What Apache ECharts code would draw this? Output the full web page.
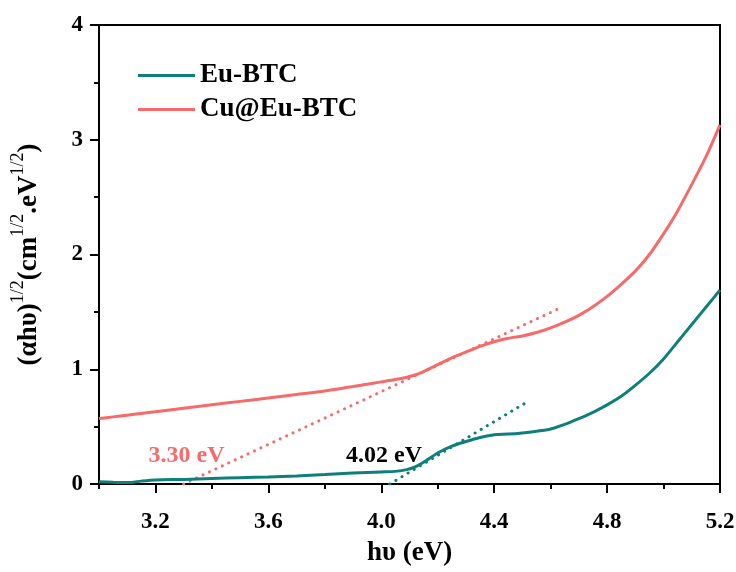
<!DOCTYPE html>
<html>
<head>
<meta charset="utf-8">
<script src="https://cdn.jsdelivr.net/npm/echarts@6/dist/echarts.min.js"></script>
<style>html,body{margin:0;padding:0;background:#fff}#c{width:736px;height:572px}</style>
</head>
<body>
<div id="c"></div>
<script>
// ---- data ----
const energy = [3.0,3.05,3.1,3.15,3.2,3.3,3.4,3.5,3.6,3.7,3.8,3.9,4.0,4.05,4.09,4.12,4.15,4.2,4.25,4.3,4.35,4.4,4.45,4.5,4.55,4.6,4.65,4.7,4.75,4.8,4.85,4.9,4.95,5.0,5.05,5.1,5.15,5.2];
const euBTC = [0.02,0.015,0.012,0.025,0.035,0.04,0.048,0.055,0.062,0.07,0.082,0.095,0.105,0.11,0.125,0.15,0.19,0.27,0.33,0.37,0.405,0.43,0.435,0.445,0.46,0.48,0.52,0.57,0.625,0.69,0.765,0.86,0.965,1.09,1.24,1.39,1.54,1.69];
const cuEuBTC = [0.57,0.585,0.6,0.615,0.63,0.66,0.69,0.72,0.75,0.78,0.81,0.85,0.89,0.91,0.93,0.95,0.98,1.04,1.1,1.15,1.2,1.24,1.27,1.29,1.32,1.36,1.41,1.47,1.545,1.635,1.74,1.855,2.0,2.18,2.38,2.61,2.85,3.13];
const euTangent = [[4.03,0],[4.52,0.72]];
const cuTangent = [[3.30,0],[4.63,1.53]];
const annotations = [
  {text:'3.30 eV', x:3.31, y:0.25, color:'#f86a6a'},
  {text:'4.02 eV', x:4.01, y:0.25, color:'#000000'}
];
const xLabels = [3.2,3.6,4.0,4.4,4.8,5.2];
const xMinor = [3.0,3.4,3.8,4.2,4.6,5.0];
const seriesNames = ['Eu-BTC','Cu@Eu-BTC'];
const colors = ['#0f7f7b','#f86a6a'];

const FONT = '"Liberation Serif","Times New Roman",serif';
const pair = (xs, ys) => xs.map((x,i)=>[x, ys[i]]);

const chart = echarts.init(document.getElementById('c'), null, {renderer:'canvas'});
const option = {
  backgroundColor:'#fff',
  animation:false,
  grid:{left:99, right:16, top:25, bottom:88, show:true, borderColor:'#000', borderWidth:2,
    containLabel:false, outerBoundsMode:'none'},
  legend:{
    data:seriesNames, orient:'vertical', left:133, top:57, icon:'rect', itemWidth:57, itemHeight:3, itemGap:7,
    textStyle:{fontFamily:FONT, fontWeight:'bold', fontSize:27, color:'#000', padding:[0,0,0,0]}
  },
  xAxis:[{
    type:'value', min:3.0, max:5.2,
    name:'h\u03c5 (eV)', nameLocation:'middle', nameGap:56,
    nameTextStyle:{fontFamily:FONT, fontWeight:'bold', fontSize:27, color:'#000'},
    axisLine:{show:true, lineStyle:{color:'#000', width:2}},
    axisTick:{show:true, length:9, lineStyle:{color:'#000', width:2}, customValues:xLabels},
    axisLabel:{fontFamily:FONT, fontWeight:'bold', fontSize:23, color:'#000', margin:27, customValues:xLabels,
      formatter:v=>v.toFixed(1)},
    splitLine:{show:false}
  },{
    type:'value', min:3.0, max:5.2, position:'bottom',
    axisLine:{show:false},
    axisTick:{show:true, length:5, lineStyle:{color:'#000', width:2}, customValues:xMinor},
    axisLabel:{show:false},
    splitLine:{show:false}
  }],
  yAxis:{
    type:'value', min:0, max:4, interval:1,
    name:'{p|(\u03b1h\u03c5)}{s|1/2}{p|(cm}{s|1/2}{p|.eV}{s|1/2}{p|)}',
    nameLocation:'middle', nameGap:56, nameRotate:90,
    nameTextStyle:{
      rich:{
        p:{fontFamily:FONT, fontWeight:'bold', fontSize:27, color:'#000', verticalAlign:'bottom', lineHeight:34},
        s:{fontFamily:FONT, fontSize:18, color:'#000', verticalAlign:'top', lineHeight:34}
      }
    },
    axisLine:{show:true, lineStyle:{color:'#000', width:2}},
    axisTick:{show:true, length:9, lineStyle:{color:'#000', width:2}},
    minorTick:{show:true, splitNumber:2, length:5, lineStyle:{color:'#000', width:2}},
    axisLabel:{fontFamily:FONT, fontWeight:'bold', fontSize:23, color:'#000', margin:16},
    splitLine:{show:false}
  },
  series:[
    {name:seriesNames[0], type:'line', data:pair(energy, euBTC), symbol:'none', smooth:0.25,
      lineStyle:{color:colors[0], width:3}, itemStyle:{color:colors[0]}, z:3},
    {name:seriesNames[1], type:'line', data:pair(energy, cuEuBTC), symbol:'none', smooth:0.25,
      lineStyle:{color:colors[1], width:3}, itemStyle:{color:colors[1]}, z:3},
    {name:'euTan', type:'line', data:euTangent, symbol:'none',
      lineStyle:{color:colors[0], width:3, type:[0.1,7], cap:'round'}, z:2},
    {name:'cuTan', type:'line', data:cuTangent, symbol:'none',
      lineStyle:{color:colors[1], width:3, type:[0.1,7], cap:'round'}, z:2},
    {name:'ann', type:'scatter', symbolSize:0, itemStyle:{opacity:1},
      data:annotations.map(a=>({value:[a.x,a.y], label:{show:true, position:'inside', formatter:a.text,
        fontFamily:FONT, fontWeight:'bold', fontSize:24, color:a.color}})), z:5}
  ]
};
chart.setOption(option);
</script>
</body>
</html>
